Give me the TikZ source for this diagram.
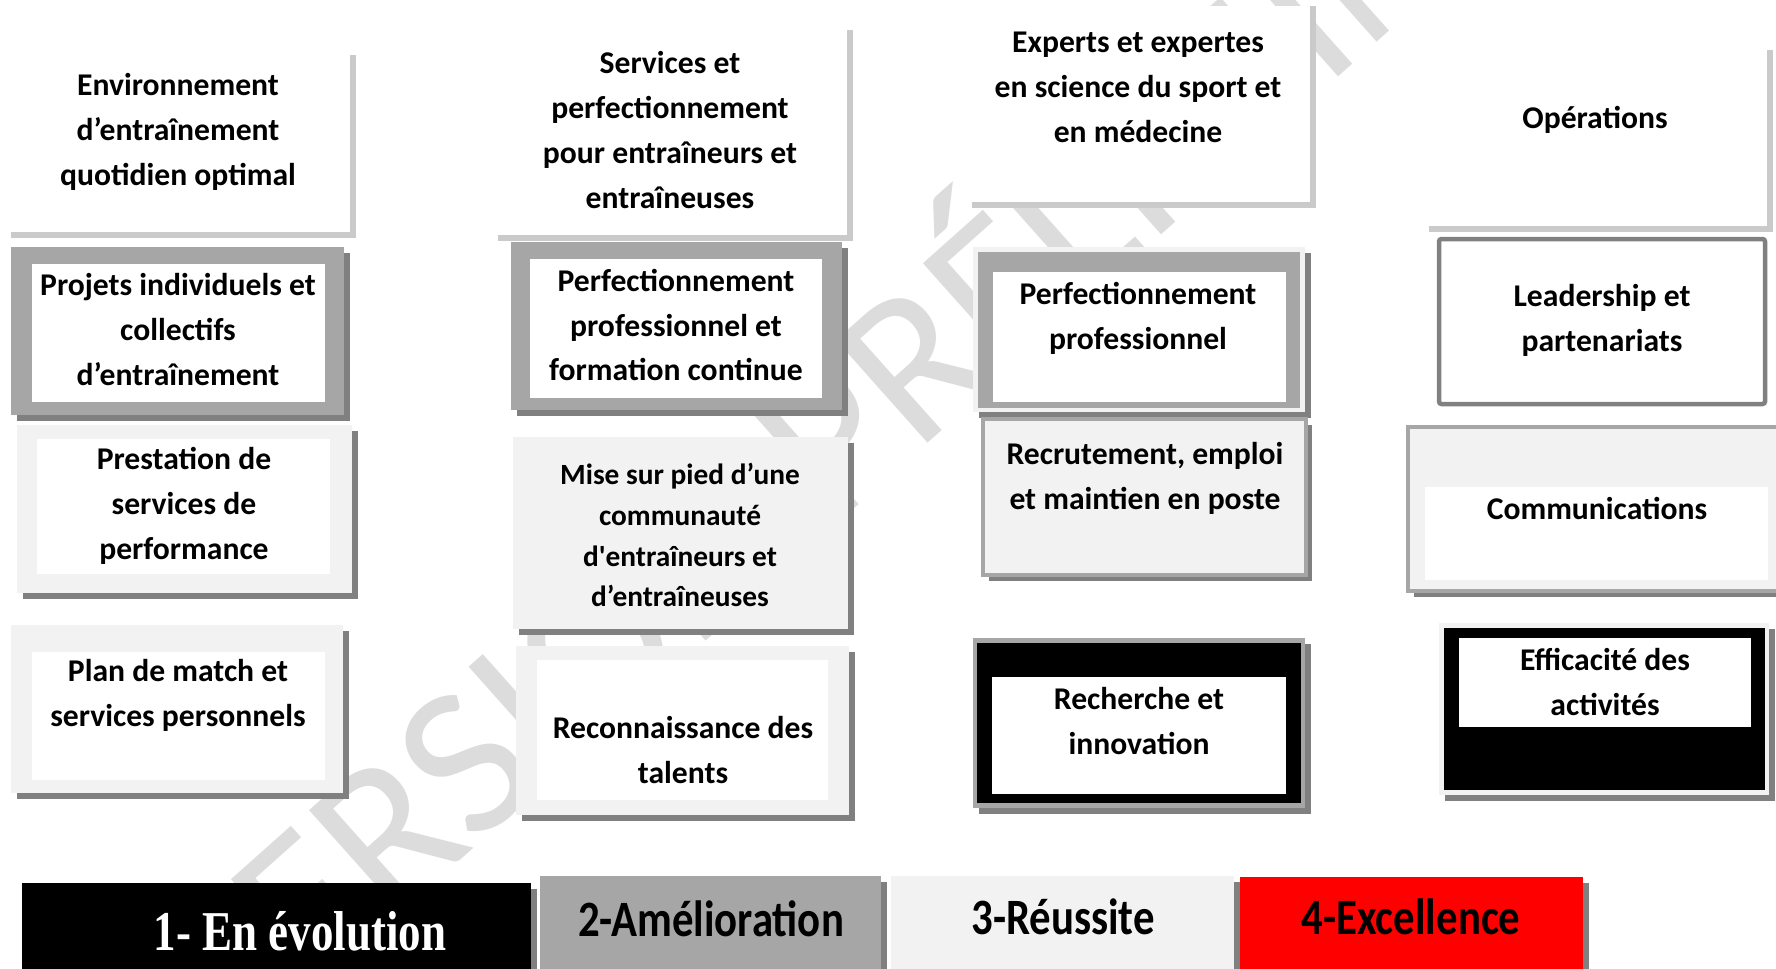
\documentclass[tikz,border=0pt]{standalone}
\usepackage{fontspec}
\setmainfont{Carlito}
\newfontfamily\legsans[FakeStretch=0.84]{Carlito}
\newfontfamily\legserif[FakeStretch=0.8]{Liberation Serif}
\usepackage{xcolor}
\usepackage{tikz}
\usetikzlibrary{shadows}
\definecolor{midgray}{HTML}{A6A6A6}
\definecolor{palegray}{HTML}{F2F2F2}
\definecolor{shgray}{HTML}{808080}
\definecolor{hdgray}{HTML}{CACACA}
\definecolor{wmgray}{HTML}{DCDCDC}
\definecolor{exred}{HTML}{FF0000}
\tikzset{tilebox/.style={fill=#1,drop shadow={shadow xshift=1.2mm,shadow yshift=-1.2mm,fill=shgray,opacity=1}},
	hdedge/.style={draw=hdgray,line width=1.2mm},
	txt/.style={align=center,inner sep=0pt,font=\bfseries\fontsize{18}{25.6}\selectfont},
	legtxt/.style={anchor=base,inner sep=0pt,font=\legsans\bfseries\fontsize{29}{29}\selectfont}}

\begin{document}
\begin{tikzpicture}[x=0.2mm,y=-0.2mm]
	\useasboundingbox (0,0) rectangle (1776,968);
	\node[rotate=41.7,text=wmgray,font=\fontsize{122}{122}\selectfont] (wm) at (935,318) {VERSION PRÉLIMINAIRE};
	%
	\fill[white] (11,55) rectangle (350,232);
	\draw[hdedge] (353,55) |- (11,235);
	\node[txt] (env) at (178,132) {Environnement\\d’entraînement\\quotidien optimal};
	\path[tilebox=midgray] (11,247) rectangle (344,415);
	\fill[white] (32,264) rectangle (325,402);
	\node[txt] (proj) at (178,330) {Projets individuels et\\collectifs\\d’entraînement};
	\path[tilebox=palegray] (17,425) rectangle (352,593);
	\fill[white] (37,439) rectangle (330,574);
	\node[txt] (prest) at (184,506) {Prestation de\\services de\\performance};
	\path[tilebox=palegray] (11,625) rectangle (343,793);
	\fill[white] (32,652) rectangle (325,780);
	\node[txt] (plan) at (178,695) {Plan de match et\\services personnels};
	%
	\fill[white] (498,30) rectangle (847,235);
	\draw[hdedge] (850,30) |- (498,238);
	\node[txt] (serv) at (670,130) {Services et\\perfectionnement\\pour entraîneurs et\\entraîneuses};
	\path[tilebox=palegray] (513,437) rectangle (848,629);
	\node[txt,font=\bfseries\fontsize{16.7}{23.3}\selectfont] (comm) at (680,535) {Mise sur pied d’une\\communauté\\d\textquotesingle entraîneurs et\\d’entraîneuses};
	\path[tilebox=midgray] (511,242) rectangle (842,410);
	\fill[white] (530,259) rectangle (822,398);
	\node[txt] (perfc) at (676,325) {Perfectionnement\\professionnel et\\formation continue};
	\path[tilebox=palegray] (516,646) rectangle (849,815);
	\fill[white] (537,660) rectangle (828,800);
	\node[txt] (talent) at (683,750) {Reconnaissance des\\talents};
	%
	\fill[white] (972,6) rectangle (1310,202);
	\draw[hdedge] (1313,6) |- (972,205);
	\node[txt] (expert) at (1138,87) {Experts et expertes\\en science du sport et\\en médecine};
	\path[tilebox=palegray] (973,247) rectangle (1305,412);
	\fill[midgray] (978,252) rectangle (1300,408);
	\fill[white] (993,272) rectangle (1286,402);
	\node[txt] (perfp) at (1138,318) {Perfectionnement\\professionnel};
	\path[tilebox=palegray,draw=midgray,line width=0.8mm] (983,419) rectangle (1306,575);
	\node[txt] (recrut) at (1145,478) {Recrutement, emploi\\et maintien en poste};
	\path[tilebox=midgray] (973,638) rectangle (1305,808);
	\fill[black] (977,643) rectangle (1301,803);
	\fill[white] (992,677) rectangle (1286,794);
	\node[txt] (rech) at (1139,721) {Recherche et\\innovation};
	%
	\fill[white] (1429,50) rectangle (1767,226);
	\draw[hdedge] (1770,50) |- (1429,229);
	\node[txt] (oper) at (1595,120) {Opérations};
	\path[fill=white,draw=shgray,line width=0.9mm,rounded corners=0.5mm] (1439,239) rectangle (1765,404);
	\node[txt] (lead) at (1602,320) {Leadership et\\partenariats};
	\path[tilebox=palegray,draw=midgray,line width=0.8mm] (1408,427) rectangle (1778,591);
	\fill[white] (1425,487) rectangle (1768,580);
	\node[txt] (commu) at (1597,508) {Communications};
	\path[tilebox=palegray] (1439,623) rectangle (1769,795);
	\fill[black] (1444,628) rectangle (1765,790);
	\fill[white] (1459,638) rectangle (1751,727);
	\node[txt] (effic) at (1605,682) {Efficacité des\\activités};
	%
	\path[tilebox=black] (22,883) rectangle (531,990);
	\path[tilebox=midgray] (540,876) rectangle (881,990);
	\path[tilebox=palegray] (891,876) rectangle (1234,990);
	\path[tilebox=exred] (1240,877) rectangle (1583,990);
	\node[legtxt,text=white,font=\legserif\bfseries\fontsize{32}{32}\selectfont] (lev1) at (300,950) {1- En évolution};
	\node[legtxt] (lev2) at (711,936) {2-Amélioration};
	\node[legtxt] (lev3) at (1063,934) {3-Réussite};
	\node[legtxt] (lev4) at (1411,934) {4-Excellence};
\end{tikzpicture}
\end{document}
